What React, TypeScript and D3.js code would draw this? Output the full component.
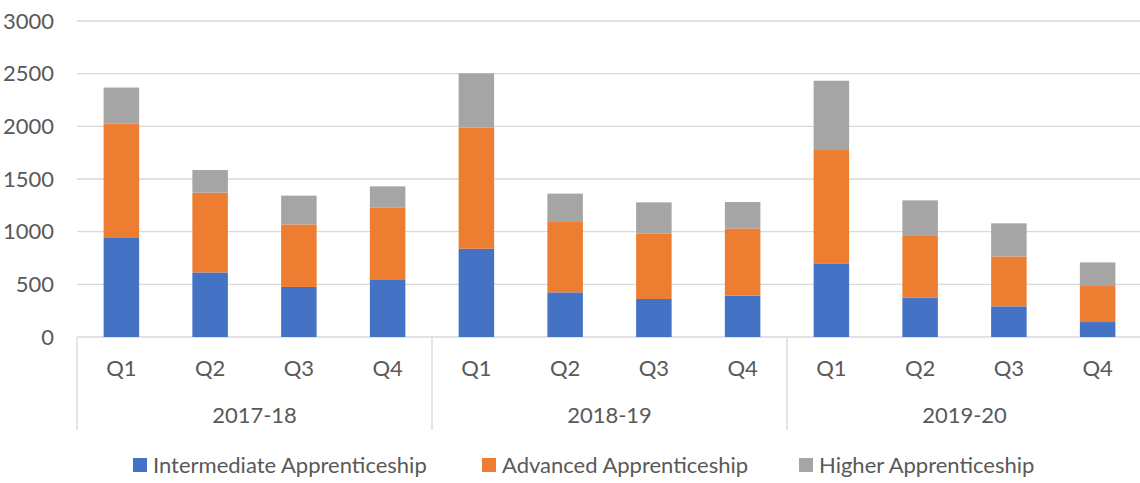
import * as d3 from "d3";

const years = ["2017-18", "2018-19", "2019-20"];
const quarters = ["Q1", "Q2", "Q3", "Q4"];
const seriesNames = [
  "Intermediate Apprenticeship",
  "Advanced Apprenticeship",
  "Higher Apprenticeship",
];
const intermediate = [940, 613, 475, 541, 838, 424, 361, 392, 699, 373, 291, 142];
const advanced = [1088, 757, 594, 690, 1152, 668, 620, 639, 1076, 586, 474, 342];
const higher = [340, 215, 273, 199, 513, 269, 297, 251, 658, 338, 314, 224];
const yTicks = [0, 500, 1000, 1500, 2000, 2500, 3000];
const colors = ["#4472C4", "#ED7D31", "#A5A5A5"];

const width = 1140;
const height = 483;
const left = 77;
const right = 1142;
const top = 21;
const bottom = 337;
const font = "Lato, 'Open Sans', sans-serif";
const textColor = "#595959";
const gridColor = "#d9d9d9";
const fs = 22;

export default function App() {
  const categories = years.flatMap((y) => quarters.map((q) => `${y}|${q}`));
  const rows = categories.map((c, i) => ({
    key: c,
    a: intermediate[i],
    b: advanced[i],
    c: higher[i],
  }));
  const stacked = d3.stack<any>().keys(["a", "b", "c"])(rows);

  const x = d3.scaleBand().domain(categories).range([left, right]).paddingInner(0.6).paddingOuter(0.3);
  const y = d3.scaleLinear().domain([0, 3000]).range([bottom, top]);

  const groupW = (right - left) / years.length;
  const legendX = [133, 482, 799];

  return (
    <svg
      width={width}
      height={height}
      style={{ position: "absolute", left: 0, top: 0, background: "#fff" }}
      fontFamily={font}
    >
      {yTicks.map((t) => (
        <g key={t}>
          <line x1={left} x2={width} y1={y(t)} y2={y(t)} stroke={gridColor} strokeWidth={1.3} />
          <text x={54} y={y(t)} dy="0.35em" textAnchor="end" fontSize={fs} fill={textColor}>
            {t}
          </text>
        </g>
      ))}

      {stacked.map((layer, si) => (
        <g key={si} fill={colors[si]}>
          {layer.map((d, i) => (
            <rect
              key={i}
              x={x(categories[i])}
              y={y(d[1])}
              width={x.bandwidth()}
              height={y(d[0]) - y(d[1])}
            />
          ))}
        </g>
      ))}

      {years.map((yr, gi) => {
        const gx = left + gi * groupW;
        return (
          <g key={yr}>
            <line x1={gx} x2={gx} y1={bottom} y2={430} stroke={gridColor} strokeWidth={1.3} />
            <text x={gx + groupW / 2} y={415} dy="0.35em" textAnchor="middle" fontSize={fs} fill={textColor}>
              {yr}
            </text>
          </g>
        );
      })}
      <line x1={right} x2={right} y1={bottom} y2={430} stroke={gridColor} strokeWidth={1.3} />

      {categories.map((c) => (
        <text
          key={c}
          x={(x(c) ?? 0) + x.bandwidth() / 2}
          y={368}
          dy="0.35em"
          textAnchor="middle"
          fontSize={fs}
          fill={textColor}
        >
          {c.split("|")[1]}
        </text>
      ))}

      {seriesNames.map((s, i) => (
        <g key={s}>
          <rect x={legendX[i]} y={458} width={14} height={14} fill={colors[i]} />
          <text x={legendX[i] + 20} y={465} dy="0.35em" fontSize={fs} fill={textColor}>
            {s}
          </text>
        </g>
      ))}
    </svg>
  );
}
